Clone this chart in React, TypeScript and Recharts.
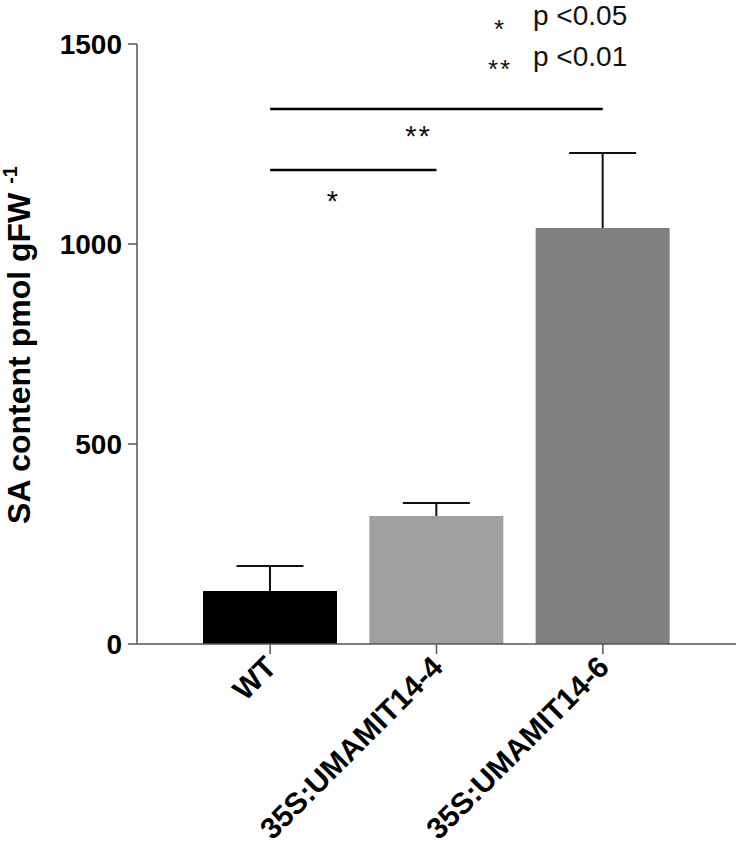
import React from "react";
import {
  BarChart,
  Bar,
  Cell,
  XAxis,
  YAxis,
  ReferenceLine,
} from "recharts";

// values
const categories = ["WT", "35S:UMAMIT14-4", "35S:UMAMIT14-6"];
const means = [132.5, 320, 1040];
const errors = [62.5, 32.5, 187.5];
const barColors = ["#000000", "#a0a0a2", "#808080"];
const yTicks = [0, 500, 1000, 1500];

const brackets = [
  { from: "WT", to: "35S:UMAMIT14-4", y: 1185, mark: "*", dx: -20, dy: 24 },
  { from: "WT", to: "35S:UMAMIT14-6", y: 1337.5, mark: "**", dx: -18, dy: 20 },
];

const legendItems = [
  { mark: "*", text: "p <0.05" },
  { mark: "**", text: "p <0.01" },
];

const data = categories.map((name, i) => ({
  name,
  mean: means[i],
  err: errors[i],
}));

const FONT = "Arial, 'Liberation Sans', sans-serif";

const ErrorWhisker = (props: any) => {
  const { x, y, width, height } = props;
  if (height == null) return null;
  const cx = x + width / 2;
  const half = width / 4;
  return (
    <g stroke="#111" strokeWidth={2} fill="none">
      <line x1={cx} y1={y + height} x2={cx} y2={y} />
      <line x1={cx - half} y1={y} x2={cx + half} y2={y} />
    </g>
  );
};

const AngledTick = (props: any) => {
  const { x, y, payload } = props;
  return (
    <g transform={`translate(${x + 8},${y + 13})`}>
      <text
        transform="rotate(-45)"
        textAnchor="end"
        fontSize={30}
        fontWeight="bold"
        fontFamily={FONT}
        fill="#000"
      >
        {payload.value}
      </text>
    </g>
  );
};

const YLabel = (props: any) => {
  const { viewBox } = props;
  const cx = 30;
  const cy = viewBox.y + viewBox.height / 2 + 1;
  return (
    <text
      x={cx}
      y={cy}
      transform={`rotate(-90, ${cx}, ${cy})`}
      textAnchor="middle"
      fontSize={32}
      fontWeight="bold"
      fontFamily={FONT}
      fill="#000"
    >
      SA content pmol gFW{" "}
      <tspan fontSize={20} dy={-13}>
        -1
      </tspan>
    </text>
  );
};

const starLabel = (mark: string, dx: number, dy: number) => (props: any) => {
  const { viewBox } = props;
  const cx = viewBox.x + viewBox.width / 2 + dx;
  const cy = viewBox.y + dy;
  return (
    <text
      x={cx}
      y={cy + 17}
      textAnchor="middle"
      fontSize={29}
      letterSpacing={2}
      fontFamily={FONT}
      fill="#111"
    >
      {mark}
    </text>
  );
};

export default function App() {
  return (
    <div
      style={{
        position: "absolute",
        left: 0,
        top: 0,
        width: 739,
        height: 850,
        background: "#fff",
      }}
    >
      <BarChart
        width={739}
        height={850}
        data={data}
        margin={{ top: 44, right: 3, bottom: 0, left: 0 }}
      >
        <XAxis
          dataKey="name"
          type="category"
          height={206}
          padding={{ left: 50, right: 50 }}
          stroke="#555"
          strokeWidth={1.5}
          tickSize={10}
          tickMargin={2}
          tick={<AngledTick />}
          interval={0}
        />
        <YAxis
          type="number"
          domain={[0, 1500]}
          ticks={yTicks}
          width={137}
          stroke="#555"
          strokeWidth={1.5}
          tickSize={9}
          tickMargin={6}
          tick={{
            fontSize: 28,
            fontWeight: "bold",
            fill: "#000",
            fontFamily: FONT,
          }}
          label={(p: any) => <YLabel {...p} />}
        />
        <Bar
          dataKey="mean"
          stackId="s"
          barSize={134}
          isAnimationActive={false}
        >
          {data.map((d, i) => (
            <Cell key={d.name} fill={barColors[i]} />
          ))}
        </Bar>
        <Bar
          dataKey="err"
          stackId="s"
          barSize={134}
          fill="none"
          shape={<ErrorWhisker />}
          isAnimationActive={false}
        />
        {brackets.map((b) => (
          <ReferenceLine
            key={b.mark}
            segment={[
              { x: b.from, y: b.y },
              { x: b.to, y: b.y },
            ]}
            stroke="#000"
            strokeWidth={2.5}
            label={starLabel(b.mark, b.dx, b.dy)}
          />
        ))}
      </BarChart>
      <svg
        width={739}
        height={850}
        style={{ position: "absolute", left: 0, top: 0, pointerEvents: "none" }}
      >
        {legendItems.map((item, i) => (
          <g key={item.text} fontFamily={FONT} fill="#111">
            <text
              x={500}
              y={24 + i * 40 + 14}
              textAnchor="middle"
              fontSize={26}
              letterSpacing={2}
            >
              {item.mark}
            </text>
            <text x={533} y={25 + i * 41} fontSize={28}>
              {item.text}
            </text>
          </g>
        ))}
      </svg>
    </div>
  );
}
